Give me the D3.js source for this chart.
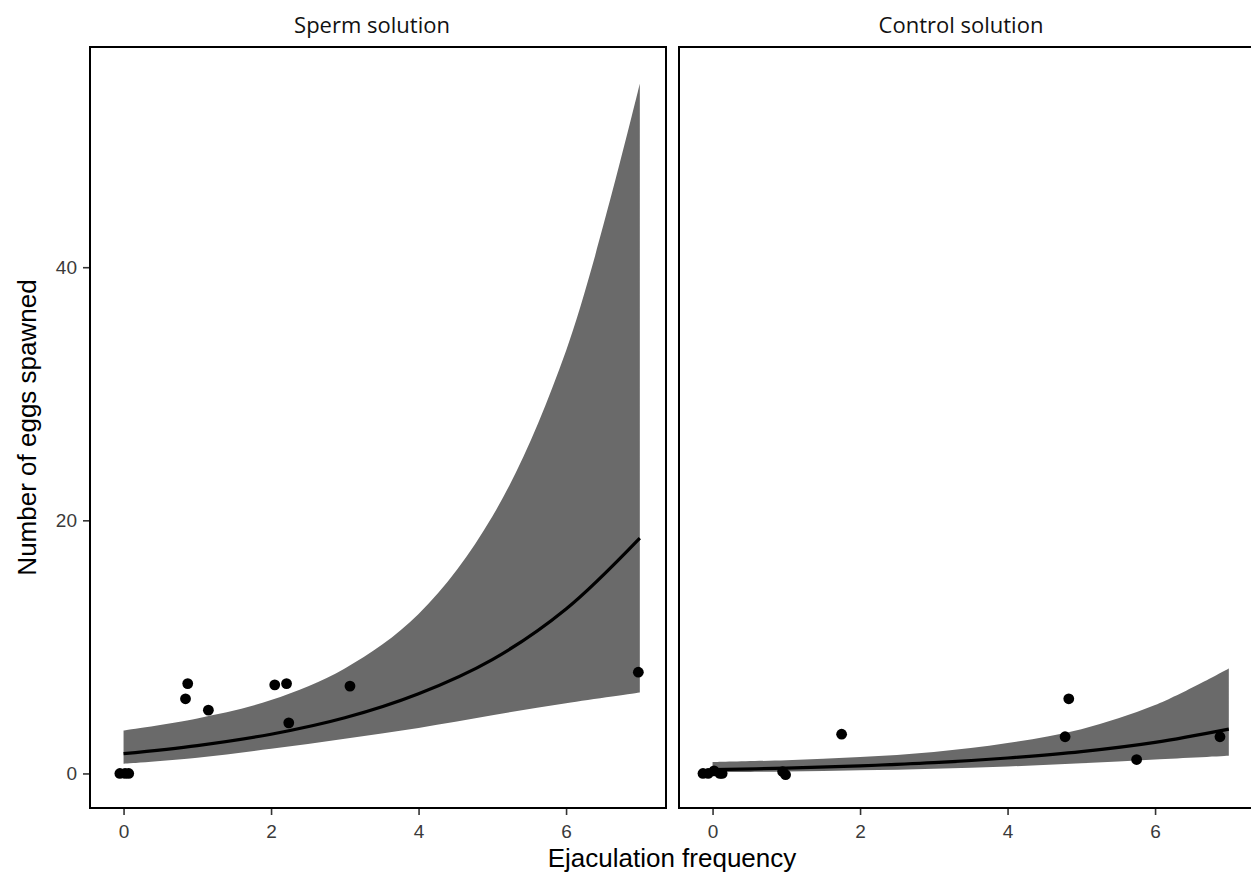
<!DOCTYPE html>
<html>
<head>
<meta charset="utf-8">
<script src="https://cdn.jsdelivr.net/npm/d3@7"></script>
<style>
  body { margin: 0; background: #fff; }
</style>
</head>
<body>
<div id="chart"></div>
<script>
// panels
var panels = ["Sperm solution", "Control solution"];

// fitted curve and ribbon, read at x = 0..7
var fitX = [0, 1, 2, 3, 4, 5, 6, 7];
var spermFit   = [1.56, 2.2, 3.1, 4.4, 6.3, 9.0, 13.0, 18.6];
var spermLow   = [0.77, 1.25, 1.95, 2.75, 3.6, 4.6, 5.55, 6.4];
var spermHigh  = [3.4, 4.35, 5.8, 8.3, 12.6, 20.3, 33.4, 54.5];
var controlFit  = [0.30, 0.42, 0.6, 0.85, 1.22, 1.72, 2.45, 3.5];
var controlLow  = [0.1, 0.16, 0.25, 0.38, 0.55, 0.8, 1.1, 1.4];
var controlHigh = [0.9, 1.05, 1.3, 1.7, 2.4, 3.5, 5.4, 8.3];

// raw points
var spermPtX = [-0.05, 0.02, 0.07, 0.84, 0.87, 1.15, 2.05, 2.21, 2.24, 3.07, 6.98];
var spermPtY = [0, 0, 0, 5.9, 7.1, 5.0, 7.0, 7.1, 4.0, 6.9, 8.0];
var controlPtX = [-0.13, -0.06, 0.02, 0.1, 0.13, 0.95, 0.99, 1.75, 4.78, 4.83, 5.75, 6.88];
var controlPtY = [0, 0, 0.2, 0, 0, 0.15, -0.1, 3.1, 2.9, 5.9, 1.1, 2.9];

var xTicks = [0, 2, 4, 6];
var yTicks = [0, 20, 40];

var width = 1251, height = 878;
var plotTop = 47, plotBottom = 808;
var panelLeft = [90, 679], panelW = 576;

var svg = d3.select("#chart").append("svg")
    .attr("width", width)
    .attr("height", height);

var y = d3.scaleLinear().domain([-2.73, 57.4]).range([plotBottom, plotTop]);

var series = [
  {fit: spermFit, low: spermLow, high: spermHigh, px: spermPtX, py: spermPtY},
  {fit: controlFit, low: controlLow, high: controlHigh, px: controlPtX, py: controlPtY}
];

series.forEach(function(s, i) {
  var x = d3.scaleLinear().domain([-0.455, 7.355]).range([panelLeft[i], panelLeft[i] + panelW]);
  var g = svg.append("g");

  var rows = fitX.map(function(v, j) { return {x: v, f: s.fit[j], lo: s.low[j], hi: s.high[j]}; });

  g.append("path")
    .datum(rows)
    .attr("fill", "#6a6a6a")
    .attr("d", d3.area()
      .curve(d3.curveCatmullRom.alpha(0.5))
      .x(function(d) { return x(d.x); })
      .y0(function(d) { return y(d.lo); })
      .y1(function(d) { return y(d.hi); }));

  g.append("path")
    .datum(rows)
    .attr("fill", "none")
    .attr("stroke", "#000")
    .attr("stroke-width", 3.2)
    .attr("d", d3.line()
      .curve(d3.curveCatmullRom.alpha(0.5))
      .x(function(d) { return x(d.x); })
      .y(function(d) { return y(d.f); }));

  g.selectAll(".pt")
    .data(s.px)
    .enter().append("circle")
      .attr("cx", function(d) { return x(d); })
      .attr("cy", function(d, j) { return y(s.py[j]); })
      .attr("r", 5.4)
      .attr("fill", "#000");

  // panel border
  g.append("rect")
    .attr("x", panelLeft[i])
    .attr("y", plotTop)
    .attr("width", panelW)
    .attr("height", plotBottom - plotTop)
    .attr("fill", "none")
    .attr("stroke", "#000")
    .attr("stroke-width", 2);

  // strip title
  svg.append("text")
    .attr("x", panelLeft[i] + panelW / 2 - 6)
    .attr("y", 33)
    .attr("text-anchor", "middle")
    .attr("font-family", "Open Sans")
    .attr("font-size", 22)
    .attr("fill", "#111")
    .text(panels[i]);

  // x axis
  var ax = svg.append("g")
    .attr("transform", "translate(0," + (plotBottom + 1) + ")")
    .call(d3.axisBottom(x).tickValues(xTicks).tickSize(6).tickPadding(10));
  ax.select(".domain").remove();
  ax.selectAll("line").attr("stroke", "#333").attr("stroke-width", 1.6);
  ax.selectAll("text")
    .attr("font-family", "Liberation Sans")
    .attr("font-size", 19)
    .attr("fill", "#3a3a3a");
});

// y axis
var ay = svg.append("g")
  .attr("transform", "translate(" + (panelLeft[0] - 1) + ",0)")
  .call(d3.axisLeft(y).tickValues(yTicks).tickSize(6).tickPadding(6));
ay.select(".domain").remove();
ay.selectAll("line").attr("stroke", "#333").attr("stroke-width", 1.6);
ay.selectAll("text")
  .attr("font-family", "Liberation Sans")
  .attr("font-size", 19)
  .attr("fill", "#3a3a3a");

svg.append("text")
  .attr("x", 672)
  .attr("y", 867)
  .attr("text-anchor", "middle")
  .attr("font-family", "Liberation Sans")
  .attr("font-size", 26)
  .attr("fill", "#000")
  .text("Ejaculation frequency");

svg.append("text")
  .attr("transform", "translate(36," + ((plotTop + plotBottom) / 2) + ") rotate(-90)")
  .attr("text-anchor", "middle")
  .attr("font-family", "Liberation Sans")
  .attr("font-size", 26)
  .attr("fill", "#000")
  .text("Number of eggs spawned");
</script>
</body>
</html>
